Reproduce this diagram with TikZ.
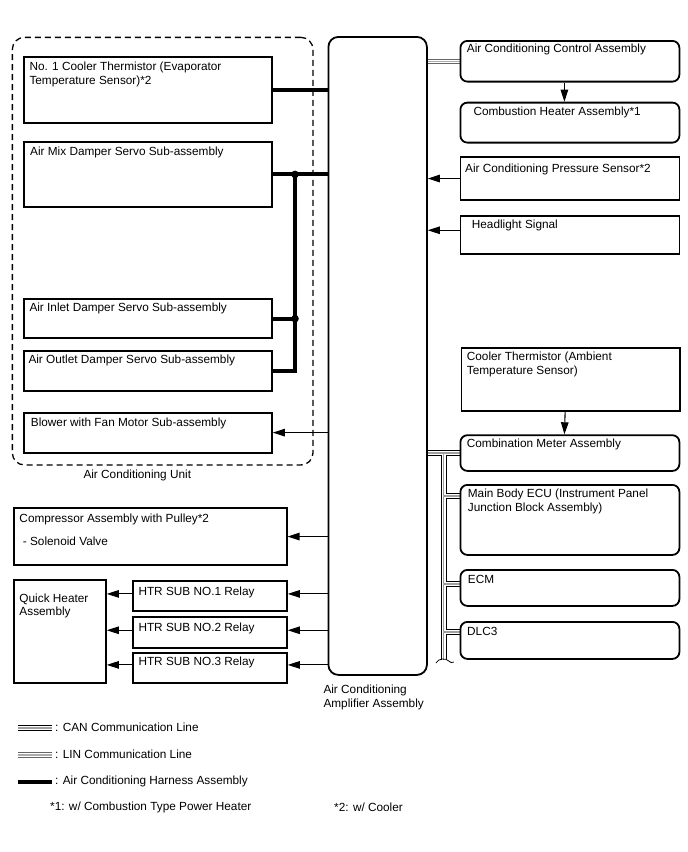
\documentclass[tikz,border=0pt]{standalone}
\usepackage{fontspec}
\setmainfont{Liberation Sans}
\usetikzlibrary{arrows.meta,calc,backgrounds}
\tikzset{
 bx/.style={draw, line width=1.8pt, inner sep=0pt, anchor=north west},
 rbx/.style={bx, rounded corners=7pt},
 txt/.style={anchor=north west, inner sep=0pt, align=left},
 ltxt/.style={anchor=west, inner sep=0pt},
 arr/.style={line width=1.1pt, -{Triangle[length=12pt,width=7.5pt]}},
 harness/.style={line width=4pt},
 canline/.style={line width=6pt, black, postaction={draw=white, line width=3.4pt}, postaction={draw=gray!75, line width=1.3pt}},
 linline/.style={line width=5.5pt, black!60, postaction={draw=white, line width=3.4pt}, postaction={draw=gray!65, line width=1.3pt}},
}
\begin{document}
\begin{tikzpicture}[x=1pt,y=-1pt, font=\fontsize{11.8}{13.8}\selectfont]
\useasboundingbox (0,0) rectangle (688,852);

% Air conditioning unit (dashed)
\node[bx, line width=1.3pt, dash pattern=on 6pt off 4pt, rounded corners=12pt, minimum width=300.6pt, minimum height=427.6pt] (unit) at (11.7,36.7) {};
\node[txt] (tunit) at (83.3,470) {Air Conditioning Unit};

% amplifier
\node[bx, rounded corners=10pt, minimum width=98.5pt, minimum height=638pt] (amp) at (327.5,36) {};
\node[txt] (tamp) at (323.3,685) {Air Conditioning\\Amplifier Assembly};

% left boxes
\node[bx, minimum width=248pt, minimum height=66.6pt] (evap) at (23,55.7) {};
\node[txt] (tevap) at (29.3,61.5) {No. 1 Cooler Thermistor (Evaporator\\Temperature Sensor)*2};
\node[bx, minimum width=248pt, minimum height=65pt] (mix) at (23,141) {};
\node[txt] (tmix) at (30,146.7) {Air Mix Damper Servo Sub-assembly};
\node[bx, minimum width=248pt, minimum height=39pt] (inlet) at (23,298.3) {};
\node[txt] (tinlet) at (29.3,302.7) {Air Inlet Damper Servo Sub-assembly};
\node[bx, minimum width=248pt, minimum height=40pt] (outlet) at (23,350) {};
\node[txt] (toutlet) at (28.3,355) {Air Outlet Damper Servo Sub-assembly};
\node[bx, minimum width=248pt, minimum height=40pt] (blower) at (23,411.7) {};
\node[txt] (tblower) at (30.7,417.3) {Blower with Fan Motor Sub-assembly};

\node[bx, minimum width=272.4pt, minimum height=56.7pt] (comp) at (13.3,507.3) {};
\node[txt] (tcomp) at (19.3,513.3) {Compressor Assembly with Pulley*2};
\node[txt] (tsol) at (22.7,536.7) {- Solenoid Valve};

\node[bx, minimum width=91.7pt, minimum height=103.3pt] (qh) at (13.3,579) {};
\node[txt] (tqh) at (19.3,593.3) {Quick Heater\\Assembly};
\node[bx, minimum width=154.3pt, minimum height=30pt] (r1) at (131.7,580) {};
\node[txt] (tr1) at (138.3,586.7) {HTR SUB NO.1 Relay};
\node[bx, minimum width=154.3pt, minimum height=30.7pt] (r2) at (131.7,616) {};
\node[txt] (tr2) at (138.3,622.7) {HTR SUB NO.2 Relay};
\node[bx, minimum width=154.3pt, minimum height=30.6pt] (r3) at (131.7,651.7) {};
\node[txt] (tr3) at (138.3,656.7) {HTR SUB NO.3 Relay};

% right boxes
\node[rbx, minimum width=219pt, minimum height=40.7pt] (acc) at (459.5,40) {};
\node[txt] (tacc) at (466.7,44) {Air Conditioning Control Assembly};
\node[rbx, minimum width=219pt, minimum height=40pt] (comb) at (459.5,101.7) {};
\node[txt] (tcomb) at (473.3,106.7) {Combustion Heater Assembly*1};
\node[bx, minimum width=219pt, minimum height=43.3pt] (press) at (459.5,156) {};
\node[txt] (tpress) at (465,163.3) {Air Conditioning Pressure Sensor*2};
\node[bx, minimum width=219pt, minimum height=37.7pt] (head) at (459.5,215) {};
\node[txt] (thead) at (471.7,220) {Headlight Signal};
\node[bx, minimum width=218.5pt, minimum height=62.7pt] (amb) at (460.5,347.3) {};
\node[txt] (tamb) at (466.7,351.7) {Cooler Thermistor (Ambient\\Temperature Sensor)};
\node[rbx, minimum width=219pt, minimum height=35.7pt] (cm) at (459.5,434.3) {};
\node[txt] (tcm) at (466.7,439) {Combination Meter Assembly};
\node[rbx, minimum width=219pt, minimum height=70pt] (mb) at (459.5,484) {};
\node[txt] (tmb) at (467.7,489) {Main Body ECU (Instrument Panel\\Junction Block Assembly)};
\node[rbx, minimum width=219pt, minimum height=36pt] (ecm) at (459.5,569) {};
\node[txt] (tecm) at (467.7,575) {ECM};
\node[rbx, minimum width=219pt, minimum height=37pt] (dlc) at (459.5,621) {};
\node[txt] (tdlc) at (467,627) {DLC3};

% coordinates for buses
\coordinate (jx) at (295,0);
\coordinate (busx) at (443.8,0);
\coordinate (busend) at (443.8,660);
\coordinate (emb) at ($(mb.north west)+(0,12)$);
\coordinate (eecm) at ($(ecm.north west)+(0,15)$);
\coordinate (edlc) at ($(dlc.north west)+(0,11)$);

\begin{scope}[on background layer]
% harness
\draw[harness] (evap.east) -- (evap.east -| amp.west);
\draw[harness] (mix.east) -- (mix.east -| amp.west);
\draw[harness] (outlet.east) -| (mix.east -| jx);
\draw[harness] (inlet.east) -- (inlet.east -| jx);
% LIN
\draw[linline] (acc.west -| amp.east) -- (acc.west);
% CAN
\draw[canline] (cm.west -| amp.east) -- (cm.west)
  (cm.west -| busx) -- (busend)
  (emb -| busx) -- (emb)
  (eecm -| busx) -- (eecm)
  (edlc -| busx) -- (edlc);
\end{scope}
\fill (mix.east -| jx) circle (3.8pt);
\fill (inlet.east -| jx) circle (3.8pt);
\draw[line width=0.8pt] ($(busend)+(-8,3)$) .. controls ($(busend)+(-5,-2)$) and ($(busend)+(2,-2)$) .. ($(busend)+(5,1)$) .. controls ($(busend)+(7,3)$) and ($(busend)+(8,3)$) .. ($(busend)+(10,2)$);

% arrows
\draw[arr] ([xshift=-5.5pt]acc.south) -- ([xshift=-5.5pt]comb.north);
\draw[arr] ([xshift=-5.5pt]amb.south) -- ([xshift=-5.5pt]cm.north);
\draw[arr] (press.west) -- (press.west -| amp.east);
\draw[arr] ([yshift=4.5pt]head.west) -- ([yshift=4.5pt]head.west -| amp.east);
\draw[arr] (blower.east -| amp.west) -- (blower.east);
\draw[arr] (comp.east -| amp.west) -- (comp.east);
\draw[arr] ([yshift=2pt]r1.east -| amp.west) -- ([yshift=2pt]r1.east);
\draw[arr] ([yshift=2pt]r2.east -| amp.west) -- ([yshift=2pt]r2.east);
\draw[arr] ([yshift=3pt]r3.east -| amp.west) -- ([yshift=3pt]r3.east);
\draw[arr] ([yshift=2pt]r1.west) -- ([yshift=2pt]r1.west -| qh.east);
\draw[arr] ([yshift=2pt]r2.west) -- ([yshift=2pt]r2.west -| qh.east);
\draw[arr] ([yshift=3pt]r3.west) -- ([yshift=3pt]r3.west -| qh.east);

% legend
\coordinate (la1) at (18,728); \coordinate (lb1) at (52,728);
\coordinate (la2) at (18,755); \coordinate (lb2) at (52,755);
\coordinate (la3) at (18,782); \coordinate (lb3) at (52,782);
\draw[canline] (la1) -- (lb1);
\draw[linline] (la2) -- (lb2);
\draw[harness] (la3) -- (lb3);
\node[ltxt] (lt1) at (55,727) {: CAN Communication Line};
\node[ltxt] (lt2) at (55,754) {: LIN Communication Line};
\node[ltxt] (lt3) at (55,781.5) {: Air Conditioning Harness Assembly};
\node[ltxt] (fn1) at (50,807.5) {*1: w/ Combustion Type Power Heater};
\node[ltxt] (fn2) at (334,807.5) {*2: w/ Cooler};
\end{tikzpicture}
\end{document}
